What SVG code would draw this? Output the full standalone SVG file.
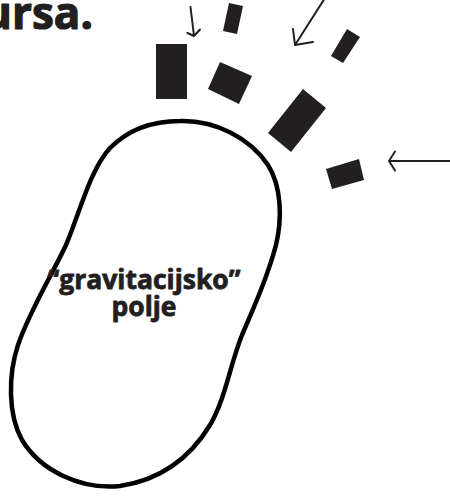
<svg xmlns="http://www.w3.org/2000/svg" width="450" height="496" viewBox="0 0 450 496">
<style>
.blk{fill:#231f20}
.arr{fill:none;stroke:#231f20;stroke-width:2;stroke-linecap:round;stroke-linejoin:round}
.lbl{font-family:"Open Sans","Liberation Sans",sans-serif;font-weight:700;fill:#231f20;stroke:#231f20;stroke-width:0.8;stroke-linejoin:round}
</style>
<rect width="450" height="496" fill="#ffffff"/>
<text class="lbl" x="93" y="29" font-size="44" text-anchor="end" style="stroke-width:1.2">ursa.</text>
<g id="field">
<path d="M180,121 C215,120 250,138 268,165 C282,187 282,220 276,245 C268,275 255,305 242,335 C230,365 225,400 210,425 C190,458 160,480 120,486 C80,490 40,470 22,440 C8,415 8,375 18,345 C30,310 52,275 66,245 C80,212 90,170 110,148 C130,128 155,121 180,121 Z" fill="none" stroke="#000" stroke-width="4.5"/>
<text class="lbl" x="144" y="289" font-size="26.5" text-anchor="middle">“gravitacijsko”</text>
<text class="lbl" x="144" y="316" font-size="26.5" text-anchor="middle">polje</text>
</g>
<g id="particles">
<polygon class="blk" points="156,44 187,44 187,99 156,99"/>
<polygon class="blk" points="229,3 243,6 237,34 223,31"/>
<polygon class="blk" points="220,62 252,76 239,104 208,89"/>
<polygon class="blk" points="303,89 326,108 291,152 268,133"/>
<polygon class="blk" points="347,29 360,37 343,63 331,56"/>
<polygon class="blk" points="326,169 359,159 364,180 332,189"/>
</g>
<g id="connectors">
<path class="arr" d="M190.5,7 L194,36 M187.5,33 L194,36 L200,29.5"/>
<path class="arr" d="M325,-2 L295,45 M293,29 L295,45 L313,42"/>
<path class="arr" d="M452,161 L389,161 M395,151.5 L389,161 L395,170.5"/>
</g>
</svg>
